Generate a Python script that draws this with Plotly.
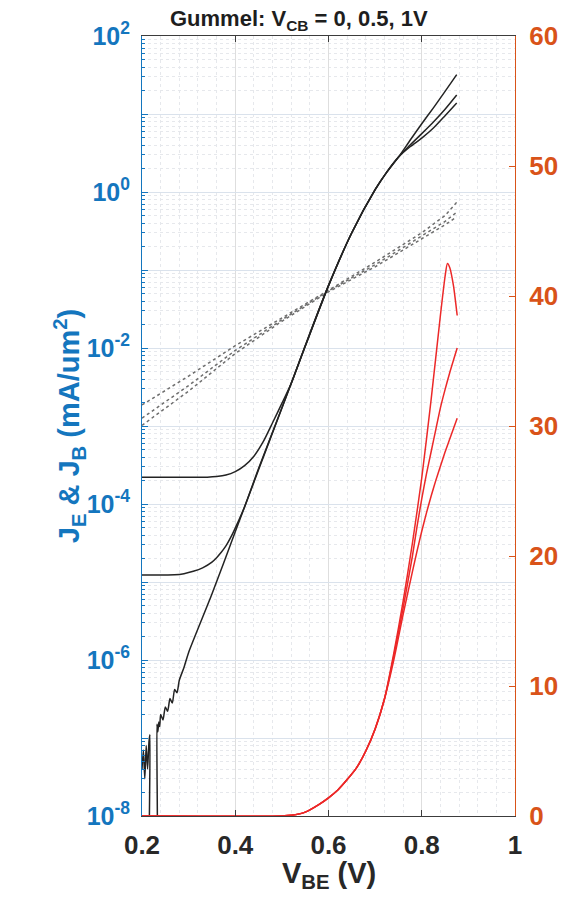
import plotly.graph_objects as go

# ---- data -------------------------------------------------------------
# Emitter current density J_E (mA/um^2), three bias conditions
vbe_je1 = [0.200, 0.203, 0.206, 0.209, 0.212, 0.215, 0.217, 0.218, 0.222, 0.226,
           0.230, 0.232, 0.234, 0.236, 0.238, 0.240, 0.245, 0.250, 0.255, 0.260,
           0.265, 0.270, 0.275, 0.280, 0.290, 0.300, 0.35, 0.40, 0.45, 0.50,
           0.55, 0.60, 0.65, 0.70, 0.725, 0.75, 0.775, 0.80, 0.825, 0.85, 0.875]
je1 = [4e-8, 7e-8, 3e-8, 8e-8, 4e-8, 9e-8, 1.1e-7, 1e-10, 1e-10, 1e-10,
       1e-10, 1.5e-7, 1.2e-7, 1.6e-7, 1.4e-7, 2e-7, 1.7e-7, 2.5e-7, 2.2e-7, 3.2e-7,
       2.8e-7, 4.2e-7, 3.8e-7, 5.5e-7, 8e-7, 1.25e-6, 7e-6, 4.4e-5, 2.75e-4, 1.7e-3,
       1.05e-2, 6.3e-2, 0.30, 1.07, 1.8, 2.8, 4.6, 7.5, 12, 19.5, 32]

vbe_je2 = [0.20, 0.27, 0.29, 0.31, 0.33, 0.35, 0.36, 0.37, 0.38, 0.39, 0.40,
           0.42, 0.45, 0.50, 0.55, 0.60, 0.65, 0.70, 0.725, 0.75, 0.775, 0.80,
           0.825, 0.85, 0.875]
je2 = [1.23e-5, 1.24e-5, 1.28e-5, 1.37e-5, 1.52e-5, 1.8e-5, 2.05e-5, 2.4e-5,
       2.9e-5, 3.7e-5, 4.9e-5, 9.2e-5, 2.85e-4, 1.7e-3, 1.05e-2, 6.3e-2, 0.30,
       1.07, 1.8, 2.8, 4.0, 5.6, 7.9, 11.5, 17.5]

vbe_je3 = [0.20, 0.30, 0.34, 0.36, 0.38, 0.40, 0.42, 0.44, 0.46, 0.48, 0.50,
           0.52, 0.55, 0.60, 0.65, 0.70, 0.725, 0.75, 0.775, 0.80, 0.825, 0.85,
           0.875]
je3 = [2.2e-4, 2.2e-4, 2.21e-4, 2.25e-4, 2.35e-4, 2.6e-4, 3.1e-4, 4.1e-4,
       6.3e-4, 1.1e-3, 1.95e-3, 3.5e-3, 1.07e-2, 6.3e-2, 0.30, 1.07, 1.8, 2.8,
       3.8, 4.9, 6.6, 9.5, 13.8]

# Base current density J_B (mA/um^2)
vbe_jb = [0.20, 0.30, 0.40, 0.50, 0.60, 0.70, 0.75, 0.80, 0.85, 0.875]
jb1 = [1.86e-3, 4.37e-3, 1.07e-2, 2.4e-2, 5.5e-2, 0.126, 0.195, 0.30, 0.50, 0.74]
jb2 = [1.26e-3, 3.3e-3, 9.3e-3, 2.3e-2, 5.4e-2, 0.117, 0.178, 0.27, 0.42, 0.55]
jb3 = [1.02e-3, 2.8e-3, 8.5e-3, 2.2e-2, 5.25e-2, 0.11, 0.166, 0.25, 0.38, 0.48]

# Linear-scale curves on the right axis
vbe_r1 = [0.20, 0.50, 0.52, 0.55, 0.58, 0.60, 0.62, 0.64, 0.66, 0.68, 0.70,
          0.72, 0.74, 0.76, 0.78, 0.80, 0.82, 0.84, 0.85, 0.855, 0.86, 0.868,
          0.876]
r1 = [0, 0, 0.05, 0.3, 0.9, 1.4, 2.0, 2.8, 3.7, 5.0, 6.7,
      9.0, 12.5, 16.5, 21, 26, 32, 38.5, 41.5, 42.5, 42.2, 40.8, 38.5]
vbe_r23 = [0.20, 0.50, 0.52, 0.55, 0.58, 0.60, 0.62, 0.64, 0.66, 0.68, 0.70,
           0.72, 0.74, 0.76, 0.78, 0.79, 0.80, 0.81, 0.82, 0.83, 0.84, 0.85,
           0.86, 0.876]
r2 = [0, 0, 0.05, 0.3, 0.9, 1.4, 2.0, 2.8, 3.7, 5.0, 6.7,
      9.0, 12.3, 16, 20, 22.3, 24.4, 26.3, 28, 29.7, 31.4, 32.8, 34.1, 36]
r3 = [0, 0, 0.05, 0.3, 0.9, 1.4, 2.0, 2.8, 3.7, 5.0, 6.7,
      9.0, 12, 15.5, 18.8, 20.4, 21.9, 23.3, 24.6, 25.8, 26.9, 28.0, 29.0, 30.6]

x_ticks = [0.2, 0.4, 0.6, 0.8, 1.0]
x_ticktext = ["0.2", "0.4", "0.6", "0.8", "1"]
y_exponents = [-8, -7, -6, -5, -4, -3, -2, -1, 0, 1, 2]
y2_ticks = [0, 10, 20, 30, 40, 50, 60]

# ---- styling ----------------------------------------------------------
FONT = "Liberation Sans, Arial, Helvetica, sans-serif"
BLUE = "rgb(20,118,190)"
ORANGE = "rgb(217,83,25)"
AXC = "rgb(60,60,60)"
GRID = "rgb(222,222,222)"
MINOR = "rgb(230,232,236)"

fig = go.Figure()

for vx, jy in [(vbe_jb, jb1), (vbe_jb, jb2), (vbe_jb, jb3)]:
    fig.add_trace(go.Scatter(x=vx, y=jy, mode="lines", yaxis="y",
                             line=dict(color="rgb(110,110,110)", width=1.5, dash="dot"),
                             showlegend=False))

for vx, jy in [(vbe_je1, je1), (vbe_je2, je2), (vbe_je3, je3)]:
    fig.add_trace(go.Scatter(x=vx, y=jy, mode="lines", yaxis="y",
                             line=dict(color="rgb(35,35,35)", width=1.5,
                                       shape="spline", smoothing=0.6),
                             showlegend=False))

for vx, ry in [(vbe_r1, r1), (vbe_r23, r2), (vbe_r23, r3)]:
    fig.add_trace(go.Scatter(x=vx, y=ry, mode="lines", yaxis="y2",
                             line=dict(color="rgb(236,40,40)", width=1.5,
                                       shape="spline", smoothing=0.6),
                             showlegend=False))

tickvals_y = [10.0 ** e for e in y_exponents]
ticktext_y = [f"10<sup>{e}</sup>" if e % 2 == 0 else "" for e in y_exponents]

fig.update_layout(
    width=563, height=906,
    margin=dict(l=142, r=48, t=36, b=90, autoexpand=False),
    paper_bgcolor="white", plot_bgcolor="white",
    font=dict(family=FONT),
    xaxis=dict(
        range=[0.2, 1.0], tickmode="array", tickvals=x_ticks, ticktext=x_ticktext,
        ticks="inside", ticklen=6, tickcolor=AXC, showline=True, linecolor=AXC,
        linewidth=1, mirror="ticks", showgrid=True, gridcolor=GRID, zeroline=False,
        automargin=False,
        tickfont=dict(size=26, color="rgb(40,40,40)", family=FONT, weight="bold"),
        ticklabelstandoff=6,
        minor=dict(dtick=0.04, showgrid=True, gridcolor=MINOR, griddash="dot",
                   ticks=""),
    ),
    yaxis=dict(
        type="log", range=[-8, 2], tickmode="array", tickvals=tickvals_y,
        ticktext=ticktext_y, ticks="inside", ticklen=6, tickcolor=BLUE,
        showline=True, linecolor=BLUE, linewidth=1, showgrid=True,
        gridcolor="rgb(218,226,236)", zeroline=False, automargin=False,
        tickfont=dict(size=25, color=BLUE, family=FONT, weight="bold"),
        ticklabelstandoff=6,
        minor=dict(dtick="D1", showgrid=True, gridcolor=MINOR, griddash="dot",
                   ticks="inside", ticklen=3, tickcolor=BLUE),
    ),
    yaxis2=dict(
        overlaying="y", side="right", range=[0, 60], tickmode="array",
        tickvals=y2_ticks, ticks="inside", ticklen=6, tickcolor=ORANGE,
        showline=True, linecolor=ORANGE, linewidth=1, showgrid=False,
        zeroline=False, ticklabelstandoff=8, automargin=False,
        tickfont=dict(size=26, color=ORANGE, family=FONT, weight="bold"),
    ),
)

# title, axis titles
fig.add_annotation(
    text="Gummel: V<sub>CB</sub> = 0, 0.5, 1V", xref="paper", yref="paper",
    x=0.42, y=0.9995, xanchor="center", yanchor="bottom", showarrow=False,
    font=dict(size=22, color="rgb(30,30,30)", family=FONT, weight="bold"),
)
fig.add_annotation(
    text="V<sub>BE</sub> (V)", xref="paper", yref="paper",
    x=0.5, y=-0.075, xanchor="center", yanchor="middle", showarrow=False,
    font=dict(size=29, color="rgb(40,40,40)", family=FONT, weight="bold"),
)
fig.add_annotation(
    text="J<sub>E</sub> & J<sub>B</sub> (mA/um<sup>2</sup>)", xref="paper",
    yref="paper", x=-0.195, y=0.5, xanchor="center", yanchor="middle",
    textangle=-90, showarrow=False,
    font=dict(size=29, color=BLUE, family=FONT, weight="bold"),
)

fig.write_html("out.html")
